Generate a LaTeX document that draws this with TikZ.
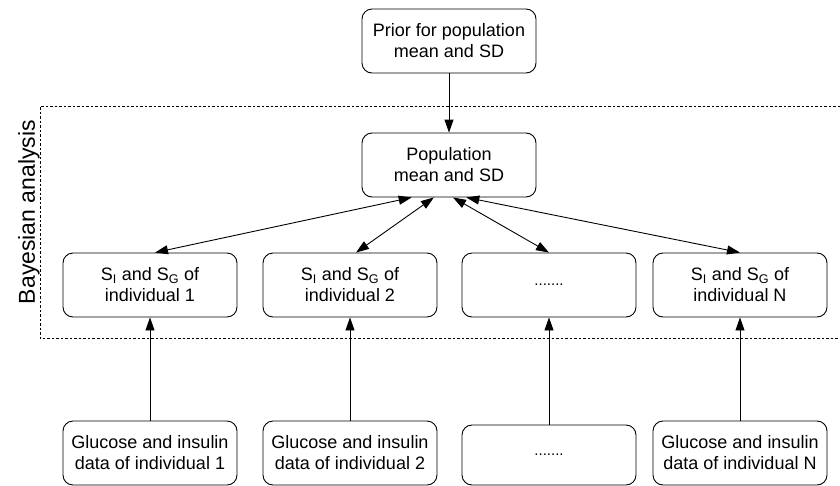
\documentclass[tikz,border=0pt]{standalone}
\usepackage{fontspec}
\setmainfont{Liberation Sans}
\usetikzlibrary{arrows.meta}

\begin{document}
\begin{tikzpicture}[x=1pt,y=-1pt,>={Triangle[length=13pt,width=9pt]},line width=0.9pt,
  box/.style={draw,rounded corners=10pt,minimum width=174pt,minimum height=64pt,
    align=center,inner sep=2pt,font=\fontsize{18}{21}\selectfont}]
\useasboundingbox (0,0) rectangle (840,485);
% frame of the Bayesian part
\draw[dash pattern=on 2.5pt off 2pt] (840,106) -- (40,106) -- (40,338) -- (840,338);
\node[rotate=90,font=\fontsize{23}{26}\selectfont] (bayes) at (29,212) {Bayesian analysis};

\node[box] (prior) at (449,41) {Prior for population\\mean and SD};
\node[box] (pop) at (449,165) {Population\\mean and SD};

\node[box] (sisg1) at (150,285) {S\textsubscript{I} and S\textsubscript{G} of\\individual 1};
\node[box] (sisg2) at (350,285) {S\textsubscript{I} and S\textsubscript{G} of\\individual 2};
\node[box] (sisg3) at (549,285) {\fontsize{15}{18}\selectfont .......};
\node[box] (sisgN) at (740,285) {S\textsubscript{I} and S\textsubscript{G} of\\individual N};

\node[box] (data1) at (150,453) {Glucose and insulin\\data of individual 1};
\node[box] (data2) at (350,453) {Glucose and insulin\\data of individual 2};
\node[box,minimum height=60pt] (data3) at (549,455) {\fontsize{15}{18}\selectfont .......};
\node[box] (dataN) at (740,453) {Glucose and insulin\\data of individual N};

\draw[->] (prior) -- (pop);
\draw[<->] (pop.221) -- ([xshift=5pt]sisg1.north);
\draw[<->] (pop.245) -- ([xshift=6pt]sisg2.north);
\draw[<->] (pop.277) -- (sisg3.north);
\draw[<->] (pop.298) -- (sisgN.north);

\draw[->] (data1) -- (sisg1);
\draw[->] (data2) -- (sisg2);
\draw[->] (data3) -- (sisg3);
\draw[->] (dataN) -- (sisgN);
\end{tikzpicture}
\end{document}
